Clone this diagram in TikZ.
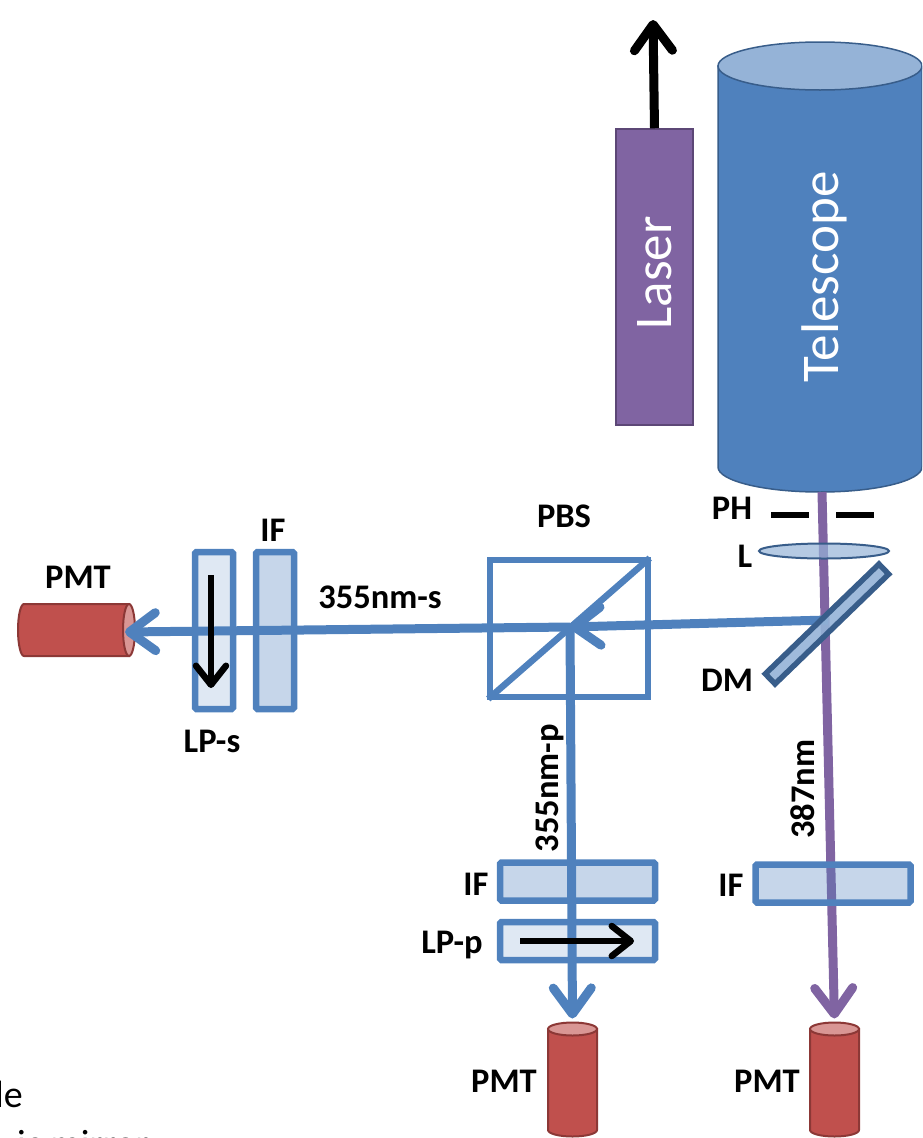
\documentclass[tikz,border=0pt]{standalone}
\usepackage{fontspec}
\setmainfont{Carlito}
\usepackage{xcolor}
\usetikzlibrary{arrows.meta,shapes.geometric}
\definecolor{optblue}{HTML}{4F81BD}
\definecolor{optdark}{HTML}{385D8A}
\definecolor{optsky}{HTML}{95B3D7}
\definecolor{optviolet}{HTML}{8064A2}
\definecolor{optvioletd}{HTML}{5C4776}
\definecolor{optred}{HTML}{C0504D}
\definecolor{optredd}{HTML}{8C3836}
\definecolor{optrose}{HTML}{D99694}
\tikzset{
  lab/.style={font=\fontsize{34.5}{40}\bfseries\selectfont,inner sep=0pt},
  big/.style={font=\fontsize{53}{60}\selectfont,text=white,inner sep=0pt},
  filt/.style={draw=optblue,line width=6.5pt,rounded corners=1.5pt,fill=optblue,fill opacity=.32,text opacity=1,inner sep=0pt},
  pol/.style={filt,fill opacity=.18},
  pmtbody/.style={draw=optredd,fill=optred,line width=2pt},
  pmtend/.style={ellipse,draw=optredd,fill=optrose,line width=2pt,inner sep=0pt},
  ray/.style={line width=9pt,-{Straight Barb[length=26pt,width=38pt,round]}},
  rayb/.style={ray,optblue},
  rayv/.style={ray,optviolet},
  pin/.style={line width=6.5pt,black},
  axis/.style={line width=6.5pt,black,-{Straight Barb[length=19pt,width=30pt,round]}},
}
\begin{document}
\begin{tikzpicture}[x=1pt,y=-1pt]
  \useasboundingbox (0,0) rectangle (922,1138);
  \clip (0,0) rectangle (922,1138);
  % laser and telescope
  \node[rectangle,draw=optvioletd,line width=1.5pt,fill=optviolet,rotate=90,minimum width=296pt,minimum height=77pt] (laser) at (654.5,277) {};
  \node[big,rotate=90] (laserlab) at (655,273) {Laser};
  \coordinate (laserout) at (653,20);
  \draw[line width=9pt,black,-{Straight Barb[length=26pt,width=38pt,round]}] (laser.east) -- (laserout);
  \draw[draw=optdark,fill=optblue,line width=1.5pt] (718,66) -- (718,467) arc[start angle=180,end angle=360,x radius=102pt,y radius=25pt] -- (922,66) -- cycle;
  \node[ellipse,draw=optdark,fill=optsky,line width=1.5pt,minimum width=204pt,minimum height=48pt,inner sep=0pt] (telescope) at (820,66) {};
  \node[big,rotate=90] (telelab) at (824,277) {Telescope};
  \coordinate (teleout) at (822,492);
  % detectors
  \draw[pmtbody] (129,604) -- (24,604) arc[start angle=90,end angle=270,x radius=6pt,y radius=26pt] -- (129,656) -- cycle;
  \node[pmtend,minimum width=12pt,minimum height=52pt] (pmts) at (129,630) {};
  \foreach \n/\x in {pmtp/572.5,pmtv/834.5} {
    \draw[pmtbody] ({\x-24.5},1029) -- ({\x-24.5},1130) arc[start angle=180,end angle=360,x radius=24.5pt,y radius=6.5pt] -- ({\x+24.5},1029) -- cycle;
    \node[pmtend,minimum width=49pt,minimum height=13pt] (\n) at (\x,1029) {};
  }
  % beams
  \coordinate (dmhit) at (828,620);
  \coordinate (pbshit) at (570,627);
  \coordinate (pmtshit) at (125,632);
  \draw[rayv,shorten >=3pt] (teleout) -- (pmtv.north);
  \draw[rayb] (dmhit) -- (pbshit);
  \draw[rayb] (pbshit) -- (pmtshit);
  \draw[rayb,shorten >=3pt] (pbshit) -- (pmtp.north);
  % optics
  \node[draw=optblue,line width=6.5pt,minimum width=158pt,minimum height=137pt,inner sep=0pt] (pbs) at (569,628.5) {};
  \draw[optblue,line width=6.5pt,shorten <=2pt,shorten >=2pt] (pbs.south west) -- (pbs.north east);
  \node[pol,minimum width=38pt,minimum height=157pt] (lps) at (214,630.5) {};
  \node[filt,minimum width=38pt,minimum height=157pt] (ifs) at (275,630.5) {};
  \node[filt,minimum width=155pt,minimum height=38pt] (ifp) at (577.5,881.5) {};
  \node[pol,minimum width=155pt,minimum height=38pt] (lpp) at (577.5,941) {};
  \node[filt,minimum width=155pt,minimum height=38pt] (ifv) at (833,883.5) {};
  \node[ellipse,draw=optdark,line width=2pt,fill=optsky,fill opacity=.7,minimum width=130pt,minimum height=15pt,inner sep=0pt] (lens) at (824,551) {};
  \node[draw=optdark,line width=5.5pt,fill=optsky,fill opacity=.9,rotate=44,minimum width=158pt,minimum height=14pt,inner sep=0pt] (dm) at (827,624) {};
  \coordinate (phl) at (771,515);
  \coordinate (phlin) at (809,515);
  \coordinate (phrin) at (836,515);
  \coordinate (phr) at (874,515);
  \draw[pin] (phl) -- (phlin);
  \draw[pin] (phrin) -- (phr);
  % polariser axes
  \coordinate (lpstop) at (211,575);
  \coordinate (lpsend) at (211,688);
  \coordinate (lpptop) at (520,941);
  \coordinate (lppend) at (634,941);
  \draw[axis] (lpstop) -- (lpsend);
  \draw[axis] (lpptop) -- (lppend);
  % labels
  \foreach \n/\x/\y/\l in {tpbs/564/516/PBS, tph/732/508/PH, tl/745/556/L, tdm/727/680/DM, tif/273/530/IF, tlps/212/741/LP-s, tpmts/78/577/PMT, tbeam/380/597/355nm-s, tifp/476/884/IF, tlpp/452/945/LP-p, tifv/731/885/IF, tpmtp/504/1081/PMT, tpmtv/767/1081/PMT} {
    \node[lab] (\n) at (\x,\y) {\l};
  }
  \node[lab,rotate=90] (tbeamp) at (550,788) {355nm-p};
  \node[lab,rotate=90] (tbeamv) at (803,789) {387nm};
  \node[font=\fontsize{38}{44}\selectfont,anchor=base east,inner sep=0pt] (capa) at (23,1107) {le};
  \node[font=\fontsize{38}{44}\selectfont,anchor=base west,inner sep=0pt] (capb) at (17,1156.5) {ic mirror};
\end{tikzpicture}
\end{document}
